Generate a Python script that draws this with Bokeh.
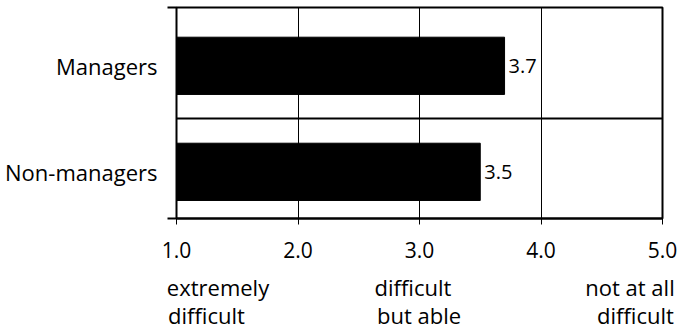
from bokeh.plotting import figure
from bokeh.models import Range1d, FixedTicker, LabelSet, ColumnDataSource, LinearAxis
from bokeh.core.properties import value
from bokeh.embed import file_html
from bokeh.resources import INLINE

# ---- data ----
categories = ["Managers", "Non-managers"]
scores = [3.7, 3.5]
score_labels = ["3.7", "3.5"]
x_ticks = [1, 2, 3, 4, 5]
x_tick_labels = ["1.0", "2.0", "3.0", "4.0", "5.0"]
scale_anchor_values = [1, 3, 5]
scale_anchor_line1 = ["extremely", "difficult", "not at all"]
scale_anchor_line2 = ["difficult", "but able", "difficult"]

FONT = "Open Sans"

n = len(categories)
ypos = [n - 1 - i for i in range(n)]  # first category on top
src = ColumnDataSource(dict(y=ypos, score=scores, lab=score_labels, cat=categories))

FRAME_W = 486
y_range = Range1d(-0.44, 1.55)
x_range = Range1d(x_ticks[0], x_ticks[-1])
p = figure(width=680, height=333, output_backend="svg", toolbar_location=None,
           x_range=x_range, y_range=y_range,
           min_border_left=176, min_border_right=18, min_border_top=7, min_border_bottom=115)
p.background_fill_color = "white"
p.border_fill_color = "white"
p.outline_line_color = "black"
p.outline_line_width = 2

p.hbar(y="y", left=x_ticks[0], right="score", height=0.54, source=src,
       fill_color="black", line_color="black")

p.add_layout(LabelSet(x="score", y="y", text="lab", source=src, x_offset=4,
                      text_baseline="middle", text_align="left",
                      text_font=value(FONT), text_font_size="20px", text_color="black"))

# x axis
p.xaxis.ticker = FixedTicker(ticks=x_ticks)
p.xaxis.major_label_overrides = {t: l for t, l in zip(x_ticks, x_tick_labels)}
p.xaxis.major_label_text_font = FONT
p.xaxis.major_label_text_font_size = "21px"
p.xaxis.major_label_text_color = "black"
p.xaxis.axis_line_color = "black"
p.xaxis.axis_line_width = 2
p.xaxis.major_tick_line_color = "black"
p.xaxis.major_tick_out = 6
p.xaxis.major_tick_in = 0
p.xaxis.minor_tick_line_color = None
p.xaxis.major_label_standoff = 17

# descriptive scale anchors: two extra label-only axes below
px_per_unit = FRAME_W / (x_range.end - x_range.start)
line_shifts = [[41.5, -6.5, -32.5], [30.0, -0.5, -27.0]]  # pixel shift of text centre from anchor
for lines, shifts, standoff in zip([scale_anchor_line1, scale_anchor_line2], line_shifts, [11, -5]):
    pos = [round(a + s / px_per_unit, 4) for a, s in zip(scale_anchor_values, shifts)]
    ax = LinearAxis(ticker=FixedTicker(ticks=pos, minor_ticks=[]),
                    major_label_overrides={q: t for q, t in zip(pos, lines)},
                    axis_line_color=None, major_tick_line_color=None,
                    minor_tick_line_color=None, major_tick_out=0, major_tick_in=0,
                    minor_tick_out=0, minor_tick_in=0,
                    major_label_standoff=standoff,
                    major_label_text_font=FONT, major_label_text_font_size="22px",
                    major_label_text_color="black")
    p.add_layout(ax, "below")

# y axis
p.yaxis.ticker = FixedTicker(ticks=ypos, minor_ticks=[y_range.start, y_range.end])
p.yaxis.major_label_overrides = {y: c for y, c in zip(ypos, categories)}
p.yaxis.major_label_text_font = FONT
p.yaxis.major_label_text_font_size = "22px"
p.yaxis.major_label_text_color = "black"
p.yaxis.axis_line_color = None
p.yaxis.major_tick_line_color = None
p.yaxis.major_tick_out = 0
p.yaxis.major_tick_in = 0
p.yaxis.minor_tick_line_color = "black"
p.yaxis.minor_tick_line_width = 2
p.yaxis.minor_tick_out = 9
p.yaxis.minor_tick_in = 0
p.yaxis.major_label_standoff = 10

# grids
p.xgrid.ticker = FixedTicker(ticks=x_ticks)
p.xgrid.grid_line_color = "black"
p.xgrid.grid_line_width = 1
mids = [(ypos[i] + ypos[i + 1]) / 2 for i in range(n - 1)]
p.ygrid.ticker = FixedTicker(ticks=mids)
p.ygrid.grid_line_color = "black"
p.ygrid.grid_line_width = 2

open("out.html", "w").write(file_html(p, INLINE))
